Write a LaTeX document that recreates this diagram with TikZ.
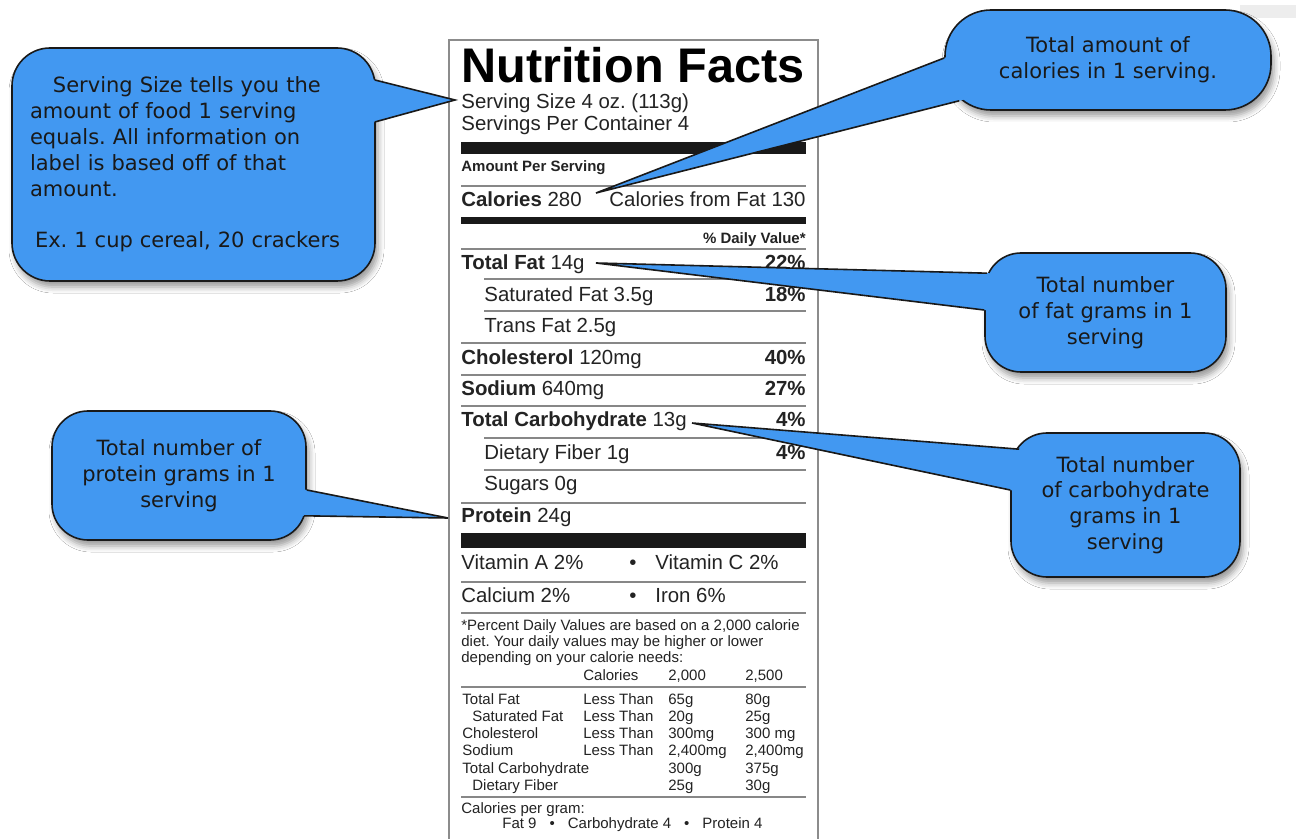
\documentclass[tikz,border=0pt]{standalone}
\usepackage{fontspec}
\setmainfont{Liberation Sans}
\newfontfamily\bubfont{DejaVu Sans}
\usepackage{tikz}
\usetikzlibrary{calc,backgrounds,shadows.blur}
\frenchspacing
\definecolor{cFill}{RGB}{66,152,241}
\definecolor{cLine}{RGB}{25,25,25}
\definecolor{lText}{RGB}{35,35,35}
\definecolor{lRule}{RGB}{135,135,135}
\tikzset{
  bubble/.style={rectangle, rounded corners=18pt, draw=cLine, line width=0.8pt,
                 fill=cFill, align=center, inner sep=0pt, text=black!90,
                 font=\bubfont\fontsize{10.5}{12.9}\selectfont,
                 blur shadow={shadow xshift=1.5pt, shadow yshift=-3pt,
                              shadow blur radius=3pt, shadow opacity=40}},
  ptrshade/.style={blur shadow={shadow xshift=1.5pt, shadow yshift=-3pt,
                                shadow blur radius=3pt, shadow opacity=40}},
  ptrline/.style={draw=cLine, line width=0.8pt, line join=miter},
  title/.style={anchor=base west, inner sep=0pt, text=black,
                font=\fontsize{24.3}{26}\selectfont\bfseries},
  row/.style={anchor=base west, inner sep=0pt, text=lText,
              font=\fontsize{10.2}{12}\selectfont},
  pct/.style={row, anchor=base east, font=\fontsize{10.2}{12}\selectfont\bfseries},
  fine/.style={anchor=base west, inner sep=0pt, text=lText,
               font=\fontsize{7.5}{8}\selectfont},
  rule/.style={draw=lRule, line width=1pt},
  bar/.style={fill=black!90},
}
% pointer of a bubble: base point, base point, tip
\newcommand{\ptr}[3]{%
  \begin{scope}[on background layer]
    \path[ptrshade] (#1) -- (#3) -- (#2) -- cycle;
  \end{scope}
  \fill[cFill] ($(#1)!-4pt!(#3)$) -- (#1) -- (#3) -- (#2) -- ($(#2)!-4pt!(#3)$) -- cycle;
  \draw[ptrline] (#1) -- (#3) -- (#2);}
% one line of the daily value table
\newcommand{\DVrow}[6]{\node[fine] (#1) at (462,#2)
  {\makebox[60.5pt][l]{#3}\makebox[42.5pt][l]{#4}\makebox[38.5pt][l]{#5}#6};}

\begin{document}
\begin{tikzpicture}[x=0.5pt, y=-0.5pt]
  \useasboundingbox[fill=white] (0,0) rectangle (1296,839);
  \fill[black!7] (1240,5) rectangle (1296,18);

  % --- label frame ---
  \draw[black!45, line width=0.8pt] (449,40) rectangle (818,850);

  % --- heading ---
  \node[title] (nf) at (461,83) {Nutrition Facts};
  \node[row] (ssize) at (461,109) {Serving Size 4 oz. (113g)};
  \node[row] (spc) at (461,131) {Servings Per Container 4};
  \fill[bar] (461,142) rectangle (806,154);
  \node[fine, font=\fontsize{7.5}{8}\selectfont\bfseries] (aps) at (461,172) {Amount Per Serving};
  \draw[rule] (461,186) -- (806,186);
  \node[row] (calrow) at (461,207) {\textbf{Calories} 280};
  \node[row, anchor=base east] (calfat) at (806,207) {Calories from Fat 130};
  \fill[bar] (461,217) rectangle (806,224);
  \node[fine, anchor=base east, font=\fontsize{7.5}{8}\selectfont\bfseries] (dv) at (806,244) {\% Daily Value*};
  \draw[rule] (461,249) -- (806,249);

  % --- nutrients ---
  \node[row] (tfat) at (461,270) {\textbf{Total Fat} 14g};
  \node[pct] (tfatp) at (806,270) {22\%};
  \draw[rule] (484,279) -- (806,279);
  \node[row] (sfat) at (484,302) {Saturated Fat 3.5g};
  \node[pct] (sfatp) at (806,302) {18\%};
  \draw[rule] (484,311) -- (806,311);
  \node[row] (trfat) at (484,333) {Trans Fat 2.5g};
  \draw[rule] (461,343) -- (806,343);
  \node[row] (chol) at (461,365) {\textbf{Cholesterol} 120mg};
  \node[pct] (cholp) at (806,365) {40\%};
  \draw[rule] (461,375) -- (806,375);
  \node[row] (sod) at (461,396) {\textbf{Sodium} 640mg};
  \node[pct] (sodp) at (806,396) {27\%};
  \draw[rule] (461,406) -- (806,406);
  \node[row] (tcarb) at (461,427) {\textbf{Total Carbohydrate} 13g};
  \node[pct] (tcarbp) at (806,427) {4\%};
  \draw[rule] (484,438) -- (806,438);
  \node[row] (fib) at (484,460) {Dietary Fiber 1g};
  \node[pct] (fibp) at (806,460) {4\%};
  \draw[rule] (484,470) -- (806,470);
  \node[row] (sug) at (484,491) {Sugars 0g};
  \draw[rule] (461,503) -- (806,503);
  \node[row] (prot) at (461,523) {\textbf{Protein} 24g};
  \fill[bar] (461,533) rectangle (806,548);

  % --- vitamins and minerals ---
  \node[row] (vita) at (461,569) {Vitamin A 2\%};
  \node[row] (dot1) at (629,569) {\textbullet};
  \node[row] (vitc) at (655,569) {Vitamin C 2\%};
  \draw[rule] (461,582) -- (806,582);
  \node[row] (calc) at (461,602) {Calcium 2\%};
  \node[row] (dot2) at (629,602) {\textbullet};
  \node[row] (iron) at (655,602) {Iron 6\%};
  \draw[rule] (461,613) -- (806,613);

  % --- footnote ---
  \node[fine] (fn1) at (461,630) {*Percent Daily Values are based on a 2,000 calorie};
  \node[fine] (fn2) at (461,646) {diet. Your daily values may be higher or lower};
  \node[fine] (fn3) at (461,662) {depending on your calorie needs:};
  \DVrow{dvhead}{680}{}{Calories}{2,000}{2,500}
  \draw[rule] (461,687) -- (806,687);
  \DVrow{dvfat}{704}{Total Fat}{Less Than}{65g}{80g}
  \DVrow{dvsat}{721}{\hspace*{5pt}Saturated Fat}{Less Than}{20g}{25g}
  \DVrow{dvchol}{738}{Cholesterol}{Less Than}{300mg}{300 mg}
  \DVrow{dvsod}{755}{Sodium}{Less Than}{2,400mg}{2,400mg}
  \DVrow{dvcarb}{773}{Total Carbohydrate}{}{300g}{375g}
  \DVrow{dvfib}{790}{\hspace*{5pt}Dietary Fiber}{}{25g}{30g}
  \draw[rule] (461,797) -- (806,797);
  \node[fine] (cpg) at (461,813) {Calories per gram:};
  \node[fine] (cpgv) at (502,828) {Fat 9\hspace{6.5pt}\textbullet\hspace{6.5pt}Carbohydrate 4\hspace{6.5pt}\textbullet\hspace{6.5pt}Protein 4};

  % --- serving size bubble ---
  \node[bubble, align=left, text width=163.5pt, minimum width=181.5pt,
        minimum height=116.5pt, rounded corners=19pt] (serv) at (193.5,164.5)
    {\hspace*{11.5pt}Serving Size tells you the\\ amount of food 1 serving\\
     equals. All information on\\ label is based off of that\\ amount.\\[12.9pt]
     \hspace*{2.5pt}Ex. 1 cup cereal, 20 crackers};
  \coordinate (sA) at ($(serv.east)+(-1,-84.5)$);
  \coordinate (sB) at ($(serv.east)+(-1,-42.5)$);
  \coordinate (sT) at ($(ssize.base west)+(-6,-9)$);
  \ptr{sA}{sB}{sT}

  % --- calories bubble ---
  \node[bubble, minimum width=163pt, minimum height=50pt, rounded corners=23pt]
    (cals) at (1108,60) {Total amount of\\ calories in 1 serving.};
  \coordinate (cA) at ($(cals.west)+(0,-2)$);
  \coordinate (cB) at ($(cals.south west)+(15,-10)$);
  \coordinate (cT) at ($(calrow.base east)+(14,-14)$);
  \ptr{cA}{cB}{cT}

  % --- fat bubble ---
  \node[bubble, minimum width=120.5pt, minimum height=59.5pt]
    (fatb) at (1105.5,312.5) {Total number\\ of fat grams in 1\\ serving};
  \coordinate (fA) at ($(fatb.north west)+(3,21)$);
  \coordinate (fB) at ($(fatb.west)+(0,-2.5)$);
  \coordinate (fT) at ($(tfat.base east)+(11,-7)$);
  \ptr{fA}{fB}{fT}

  % --- carbohydrate bubble ---
  \node[bubble, minimum width=114.5pt, minimum height=72pt]
    (carbb) at (1125.5,505) {Total number\\ of carbohydrate\\ grams in 1\\ serving};
  \coordinate (kA) at ($(carbb.north west)+(9,17)$);
  \coordinate (kB) at ($(carbb.west)+(0,-15)$);
  \coordinate (kT) at ($(tcarb.base east)+(5,-4)$);
  \ptr{kA}{kB}{kT}

  % --- protein bubble ---
  \node[bubble, minimum width=127pt, minimum height=64.5pt]
    (protb) at (179,475.5) {Total number of\\ protein grams in 1\\ serving};
  \coordinate (pA) at ($(protb.east)+(0,14.5)$);
  \coordinate (pB) at ($(protb.south east)+(-3,-25)$);
  \coordinate (pT) at ($(prot.base west)+(-13,-5)$);
  \ptr{pA}{pB}{pT}
\end{tikzpicture}
\end{document}
